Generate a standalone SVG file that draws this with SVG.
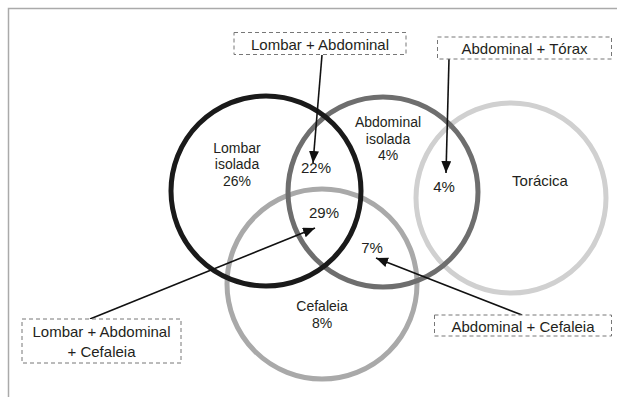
<svg xmlns="http://www.w3.org/2000/svg" width="617" height="397" viewBox="0 0 617 397">
<style>
text{font-family:"Liberation Sans",Arial,sans-serif;font-size:15px;fill:#231f20;text-anchor:middle}
.m{font-size:14px}
.c{fill:none;stroke-width:5}
.box{fill:#fff;stroke:#777;stroke-width:1;stroke-dasharray:4,3}
.arr{stroke:#111;stroke-width:1.6;fill:none;marker-end:url(#ah)}
</style>
<defs>
<marker id="ah" markerUnits="userSpaceOnUse" markerWidth="13" markerHeight="11" refX="12" refY="5" orient="auto">
<path d="M0,0 L12,5 L0,10 z" fill="#111"/>
</marker>
</defs>
<rect width="617" height="397" fill="#fff"/>
<path d="M8.5,397 V8.5 H617" fill="none" stroke="#aaa" stroke-width="1.5"/>
<g id="toracica">
<circle class="c" cx="511" cy="198" r="95" stroke="#d0d0d0"/>
<text x="540" y="186">Torácica</text>
</g>
<g id="cefaleia">
<circle class="c" cx="322" cy="284" r="95" stroke="#a9a9a9"/>
<text class="m" x="322" y="311">Cefaleia</text>
<text class="m" x="322" y="328">8%</text>
</g>
<g id="abdominal">
<circle class="c" cx="383" cy="192" r="95" stroke="#6e6e6e"/>
<text class="m" x="388" y="127">Abdominal</text>
<text class="m" x="388" y="143.5">isolada</text>
<text class="m" x="388" y="160">4%</text>
</g>
<g id="lombar">
<circle class="c" cx="266" cy="191" r="95" stroke="#1a1a1a"/>
<text class="m" x="237" y="152.5">Lombar</text>
<text class="m" x="237" y="169">isolada</text>
<text class="m" x="237" y="185.5">26%</text>
</g>
<g id="overlaps">
<text x="316" y="173">22%</text>
<text x="324" y="218">29%</text>
<text x="372" y="253">7%</text>
<text x="444" y="192">4%</text>
</g>
<g id="connectors">
<line class="arr" x1="322" y1="55" x2="313" y2="163"/>
<line class="arr" x1="449" y1="59" x2="446" y2="173"/>
<line class="arr" x1="90" y1="319" x2="315" y2="228"/>
<line class="arr" x1="522" y1="315" x2="376" y2="258"/>
</g>
<g id="box-lombar-abdominal">
<rect class="box" x="234" y="32.5" width="172" height="22"/>
<text x="320" y="49.5">Lombar + Abdominal</text>
</g>
<g id="box-abdominal-torax">
<rect class="box" x="437.5" y="37" width="174" height="22"/>
<text x="524.5" y="53.5">Abdominal + Tórax</text>
</g>
<g id="box-lombar-abdominal-cefaleia">
<rect class="box" x="22" y="319" width="159" height="44"/>
<text x="101.5" y="337">Lombar + Abdominal</text>
<text x="101.5" y="357">+ Cefaleia</text>
</g>
<g id="box-abdominal-cefaleia">
<rect class="box" x="434.5" y="315" width="177" height="21"/>
<text x="523" y="331.5">Abdominal + Cefaleia</text>
</g>
</svg>
